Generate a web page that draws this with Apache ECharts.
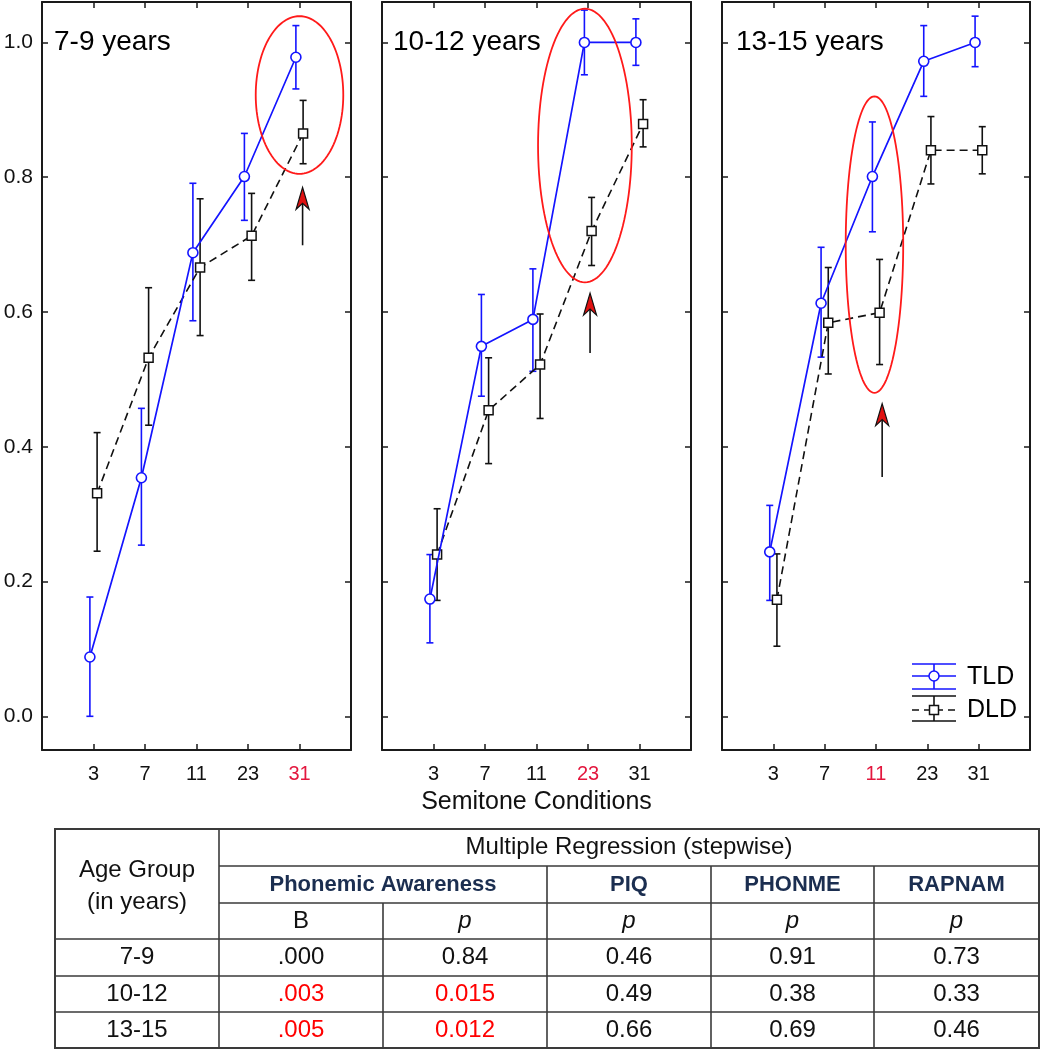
<!DOCTYPE html>
<html><head><meta charset="utf-8">
<script src="https://cdn.jsdelivr.net/npm/echarts@6/dist/echarts.min.js"></script>
<style>html,body{margin:0;padding:0;background:#fff}#c{width:1050px;height:1050px}</style>
</head><body><div id="c"></div>
<script>
// ---------------- data ----------------
const categories = ['3', '7', '11', '23', '31'];
const panelTitles = ['7-9 years', '10-12 years', '13-15 years'];
const highlighted = ['31', '23', '11'];
const yTicks = [0, 0.2, 0.4, 0.6, 0.8, 1.0];

const tldMean1 = [0.088, 0.354, 0.688, 0.801, 0.978];
const tldLow1  = [0.000, 0.254, 0.587, 0.736, 0.931];
const tldHigh1 = [0.177, 0.457, 0.791, 0.865, 1.025];
const dldMean1 = [0.331, 0.532, 0.666, 0.713, 0.865];
const dldLow1  = [0.245, 0.432, 0.565, 0.647, 0.820];
const dldHigh1 = [0.421, 0.636, 0.768, 0.776, 0.914];

const tldMean2 = [0.174, 0.549, 0.589, 1.000, 1.000];
const tldLow2  = [0.109, 0.475, 0.512, 0.952, 0.966];
const tldHigh2 = [0.240, 0.626, 0.664, 1.048, 1.035];
const dldMean2 = [0.240, 0.454, 0.522, 0.720, 0.879];
const dldLow2  = [0.172, 0.375, 0.442, 0.669, 0.845];
const dldHigh2 = [0.308, 0.532, 0.597, 0.770, 0.915];

const tldMean3 = [0.244, 0.613, 0.801, 0.972, 1.000];
const tldLow3  = [0.172, 0.533, 0.719, 0.920, 0.964];
const tldHigh3 = [0.313, 0.696, 0.882, 1.025, 1.039];
const dldMean3 = [0.173, 0.584, 0.599, 0.840, 0.840];
const dldLow3  = [0.104, 0.508, 0.522, 0.790, 0.805];
const dldHigh3 = [0.241, 0.666, 0.678, 0.890, 0.875];

// highlight ellipses: [category position, centre value, x radius (category units), y radius (value units)]
const ellipse1 = [4.00, 0.922, 0.85, 0.117];
const ellipse2 = [2.94, 0.847, 0.91, 0.203];
const ellipse3 = [1.97, 0.700, 0.56, 0.220];
// arrows: [category position, tail value, tip value]
const arrow1 = [4.06, 0.699, 0.785];
const arrow2 = [3.04, 0.539, 0.628];
const arrow3 = [2.12, 0.355, 0.464];

// table
const tableTitle = 'Multiple Regression (stepwise)';
const tableAgeHeader = ['Age Group', '(in years)'];
const tableGroupHeaders = ['Phonemic Awareness', 'PIQ', 'PHONME', 'RAPNAM'];
const tableSubHeaders = ['B', 'p', 'p', 'p', 'p'];
const tableAgeGroups = ['7-9', '10-12', '13-15'];
const tablePhonB   = ['.000', '.003', '.005'];
const tablePhonP   = ['0.84', '0.015', '0.012'];
const tablePIQ     = ['0.46', '0.49', '0.66'];
const tablePHONME  = ['0.91', '0.38', '0.69'];
const tableRAPNAM  = ['0.73', '0.33', '0.46'];
const tableSignificant = [false, true, true];

// ---------------- chart ----------------
const FONT = "'Liberation Sans', Arial, Helvetica, sans-serif";
const BLUE = '#1414ff';
const LABEL_RED = '#e3173e';
const OFF = 0.07;

const panels = [
  {tm: tldMean1, tl: tldLow1, th: tldHigh1, dm: dldMean1, dl: dldLow1, dh: dldHigh1, el: ellipse1, ar: arrow1},
  {tm: tldMean2, tl: tldLow2, th: tldHigh2, dm: dldMean2, dl: dldLow2, dh: dldHigh2, el: ellipse2, ar: arrow2},
  {tm: tldMean3, tl: tldLow3, th: tldHigh3, dm: dldMean3, dl: dldLow3, dh: dldHigh3, el: ellipse3, ar: arrow3}
];
const gridLeft = [42, 382, 722];
const gridWidth = [309, 309, 308];
const titleLeft = [54, 393, 736];

function errorBarRenderer(color) {
  return function (params, api) {
    const x = api.value(0);
    const lo = api.coord([x, api.value(1)]);
    const hi = api.coord([x, api.value(2)]);
    const w = 3.5;
    const st = {stroke: color, lineWidth: 1.6};
    return {type: 'group', children: [
      {type: 'line', shape: {x1: lo[0], y1: lo[1], x2: hi[0], y2: hi[1]}, style: st},
      {type: 'line', shape: {x1: lo[0] - w, y1: lo[1], x2: lo[0] + w, y2: lo[1]}, style: st},
      {type: 'line', shape: {x1: hi[0] - w, y1: hi[1], x2: hi[0] + w, y2: hi[1]}, style: st}
    ]};
  };
}
function ellipseRenderer(params, api) {
  const c = api.coord([api.value(0), api.value(1)]);
  const s = api.size([api.value(2), api.value(3)]);
  const pts = [];
  for (let k = 0; k < 120; k++) {
    const t = k / 120 * Math.PI * 2;
    pts.push([c[0] + s[0] * Math.cos(t), c[1] + s[1] * Math.sin(t)]);
  }
  return {type: 'polygon', shape: {points: pts}, style: {fill: 'none', stroke: '#ff1a1a', lineWidth: 1.8}};
}
function arrowRenderer(params, api) {
  const tail = api.coord([api.value(0), api.value(1)]);
  const tip = api.coord([api.value(0), api.value(2)]);
  const x = tip[0], ty = tip[1];
  return {type: 'group', children: [
    {type: 'line', shape: {x1: tail[0], y1: tail[1], x2: x, y2: ty + 15}, style: {stroke: '#111', lineWidth: 1.6}},
    {type: 'polygon', shape: {points: [[x, ty], [x + 6.5, ty + 22], [x, ty + 16], [x - 6.5, ty + 22]]},
     style: {fill: '#e01010', stroke: '#111', lineWidth: 1.2}}
  ]};
}

const grids = [], xAxes = [], yAxes = [], series = [], titles = [];
panels.forEach((p, g) => {
  grids.push({left: gridLeft[g], top: 2, width: gridWidth[g], height: 748});
  const frameLine = {show: true, onZero: false, lineStyle: {color: '#1a1a1a', width: 2}};
  const tickX = {show: true, inside: true, length: 6, customValues: [0, 1, 2, 3, 4], lineStyle: {color: '#1a1a1a', width: 1.5}};
  const tickY = {show: true, inside: true, length: 6, customValues: yTicks, lineStyle: {color: '#1a1a1a', width: 1.5}};
  xAxes.push({
    type: 'value', gridIndex: g, position: 'bottom', min: -1, max: 5, interval: 1,
    axisLine: frameLine, axisTick: tickX, splitLine: {show: false},
    axisLabel: {
      show: true, customValues: [0, 1, 2, 3, 4], margin: 14, fontSize: 20, fontFamily: FONT,
      formatter: v => categories[Math.round(v)] || '',
      color: v => (categories[Math.round(v)] === highlighted[g] ? LABEL_RED : '#111')
    },
    name: g === 1 ? 'Semitone Conditions' : '', nameLocation: 'middle', nameGap: 40,
    nameTextStyle: {fontSize: 25, color: '#111', fontFamily: FONT}
  });
  xAxes.push({
    type: 'value', gridIndex: g, position: 'top', min: -1, max: 5, interval: 1,
    axisLine: frameLine, axisTick: tickX, axisLabel: {show: false}, splitLine: {show: false}
  });
  yAxes.push({
    type: 'value', gridIndex: g, position: 'left', min: -0.05, max: 1.06,
    axisLine: frameLine, axisTick: tickY, splitLine: {show: false},
    axisLabel: {show: g === 0, customValues: yTicks, formatter: v => Number(v).toFixed(1),
      fontSize: 21, margin: 9, color: '#111', fontFamily: FONT}
  });
  yAxes.push({
    type: 'value', gridIndex: g, position: 'right', min: -0.05, max: 1.06,
    axisLine: frameLine, axisTick: tickY, splitLine: {show: false}, axisLabel: {show: false}
  });
  const xi = 2 * g, yi = 2 * g;
  series.push({type: 'custom', xAxisIndex: xi, yAxisIndex: yi, z: 2, silent: true,
    renderItem: errorBarRenderer('#111'), encode: {x: 0, y: [1, 2]},
    data: p.dm.map((m, i) => [i + OFF, p.dl[i], p.dh[i]])});
  series.push({type: 'custom', xAxisIndex: xi, yAxisIndex: yi, z: 2, silent: true,
    renderItem: errorBarRenderer(BLUE), encode: {x: 0, y: [1, 2]},
    data: p.tm.map((m, i) => [i - OFF, p.tl[i], p.th[i]])});
  series.push({type: 'line', name: 'DLD', xAxisIndex: xi, yAxisIndex: yi, z: 3,
    data: p.dm.map((m, i) => [i + OFF, m]),
    symbol: 'rect', symbolSize: 9,
    lineStyle: {color: '#111', width: 1.6, type: [8, 5]},
    itemStyle: {color: '#fff', borderColor: '#111', borderWidth: 1.5}});
  series.push({type: 'line', name: 'TLD', xAxisIndex: xi, yAxisIndex: yi, z: 4,
    data: p.tm.map((m, i) => [i - OFF, m]),
    symbol: 'circle', symbolSize: 10,
    lineStyle: {color: BLUE, width: 1.7},
    itemStyle: {color: '#fff', borderColor: BLUE, borderWidth: 1.6}});
  series.push({type: 'custom', xAxisIndex: xi, yAxisIndex: yi, z: 5, silent: true,
    renderItem: ellipseRenderer, encode: {x: 0, y: 1}, data: [p.el]});
  series.push({type: 'custom', xAxisIndex: xi, yAxisIndex: yi, z: 5, silent: true,
    renderItem: arrowRenderer, encode: {x: 0, y: [1, 2]}, data: [p.ar]});
  titles.push({text: panelTitles[g], left: titleLeft[g], top: 28, padding: 0,
    textStyle: {fontSize: 28, fontWeight: 'normal', color: '#000', fontFamily: FONT}});
});

// ---------------- legend (graphic) ----------------
const legendEls = [];
(function () {
  const lx0 = 912, lx1 = 956, cx = 934;
  const L = (x1, y1, x2, y2, c, dash) => ({type: 'line', shape: {x1, y1, x2, y2},
    style: {stroke: c, lineWidth: 1.6, lineDash: dash || null}});
  // TLD
  legendEls.push(L(lx0, 664, lx1, 664, BLUE), L(lx0, 676, lx1, 676, BLUE), L(lx0, 689, lx1, 689, BLUE),
    L(cx, 664, cx, 689, BLUE));
  legendEls.push({type: 'circle', shape: {cx: cx, cy: 676, r: 5}, style: {fill: '#fff', stroke: BLUE, lineWidth: 1.5}});
  legendEls.push({type: 'text', style: {text: 'TLD', x: 967, y: 677, fill: '#000', font: '25px ' + FONT, verticalAlign: 'middle', align: 'left'}});
  // DLD
  legendEls.push(L(lx0, 696, lx1, 696, '#111'), L(lx0, 721, lx1, 721, '#111'), L(lx0, 710, lx1, 710, '#111', [7, 5]),
    L(cx, 696, cx, 721, '#111'));
  legendEls.push({type: 'rect', shape: {x: cx - 4.5, y: 705.5, width: 9, height: 9}, style: {fill: '#fff', stroke: '#111', lineWidth: 1.5}});
  legendEls.push({type: 'text', style: {text: 'DLD', x: 967, y: 710, fill: '#000', font: '25px ' + FONT, verticalAlign: 'middle', align: 'left'}});
})();

// ---------------- table (graphic) ----------------
const tableEls = [];
(function () {
  const colX = [55, 219, 383, 547, 711, 874, 1039];
  const rowY = [829, 866, 903, 939, 976, 1012, 1048];
  const LC = '#3a3a3a';
  const ln = (x1, y1, x2, y2) => ({type: 'line', shape: {x1, y1, x2, y2}, style: {stroke: LC, lineWidth: 1.6}});
  tableEls.push({type: 'rect', shape: {x: colX[0], y: rowY[0], width: colX[6] - colX[0], height: rowY[6] - rowY[0]},
    style: {fill: 'none', stroke: LC, lineWidth: 2}});
  tableEls.push(ln(colX[1], rowY[1], colX[6], rowY[1]));
  tableEls.push(ln(colX[1], rowY[2], colX[6], rowY[2]));
  for (let r = 3; r <= 5; r++) tableEls.push(ln(colX[0], rowY[r], colX[6], rowY[r]));
  tableEls.push(ln(colX[1], rowY[0], colX[1], rowY[6]));
  tableEls.push(ln(colX[2], rowY[2], colX[2], rowY[6]));
  for (let c = 3; c <= 5; c++) tableEls.push(ln(colX[c], rowY[1], colX[c], rowY[6]));
  const T = (text, x, y, opt) => ({type: 'text', style: Object.assign({text, x, y, fill: '#111',
    font: '24px ' + FONT, align: 'center', verticalAlign: 'middle'}, opt || {})});
  const mid = (a, b) => (a + b) / 2;
  tableEls.push(T(tableAgeHeader[0], mid(colX[0], colX[1]), 870));
  tableEls.push(T(tableAgeHeader[1], mid(colX[0], colX[1]), 902));
  tableEls.push(T(tableTitle, mid(colX[1], colX[6]), mid(rowY[0], rowY[1])));
  const HB = {fill: '#1b2e50', font: 'bold 22px ' + FONT};
  tableEls.push(T(tableGroupHeaders[0], mid(colX[1], colX[3]), mid(rowY[1], rowY[2]), HB));
  tableEls.push(T(tableGroupHeaders[1], mid(colX[3], colX[4]), mid(rowY[1], rowY[2]), HB));
  tableEls.push(T(tableGroupHeaders[2], mid(colX[4], colX[5]), mid(rowY[1], rowY[2]), HB));
  tableEls.push(T(tableGroupHeaders[3], mid(colX[5], colX[6]), mid(rowY[1], rowY[2]), HB));
  tableSubHeaders.forEach((s, i) => {
    tableEls.push(T(s, mid(colX[i + 1], colX[i + 2]), mid(rowY[2], rowY[3]),
      s === 'p' ? {font: 'italic 24px ' + FONT} : null));
  });
  tableAgeGroups.forEach((ag, r) => {
    const y = mid(rowY[3 + r], rowY[4 + r]);
    const red = tableSignificant[r] ? {fill: '#ff0000'} : null;
    tableEls.push(T(ag, mid(colX[0], colX[1]), y));
    tableEls.push(T(tablePhonB[r], mid(colX[1], colX[2]), y, red));
    tableEls.push(T(tablePhonP[r], mid(colX[2], colX[3]), y, red));
    tableEls.push(T(tablePIQ[r], mid(colX[3], colX[4]), y));
    tableEls.push(T(tablePHONME[r], mid(colX[4], colX[5]), y));
    tableEls.push(T(tableRAPNAM[r], mid(colX[5], colX[6]), y));
  });
})();

const chart = echarts.init(document.getElementById('c'), null, {renderer: 'canvas'});
chart.setOption({
  animation: false,
  backgroundColor: '#fff',
  title: titles,
  grid: grids,
  xAxis: xAxes,
  yAxis: yAxes,
  series: series,
  graphic: {elements: legendEls.concat(tableEls)}
});
</script>
</body></html>
